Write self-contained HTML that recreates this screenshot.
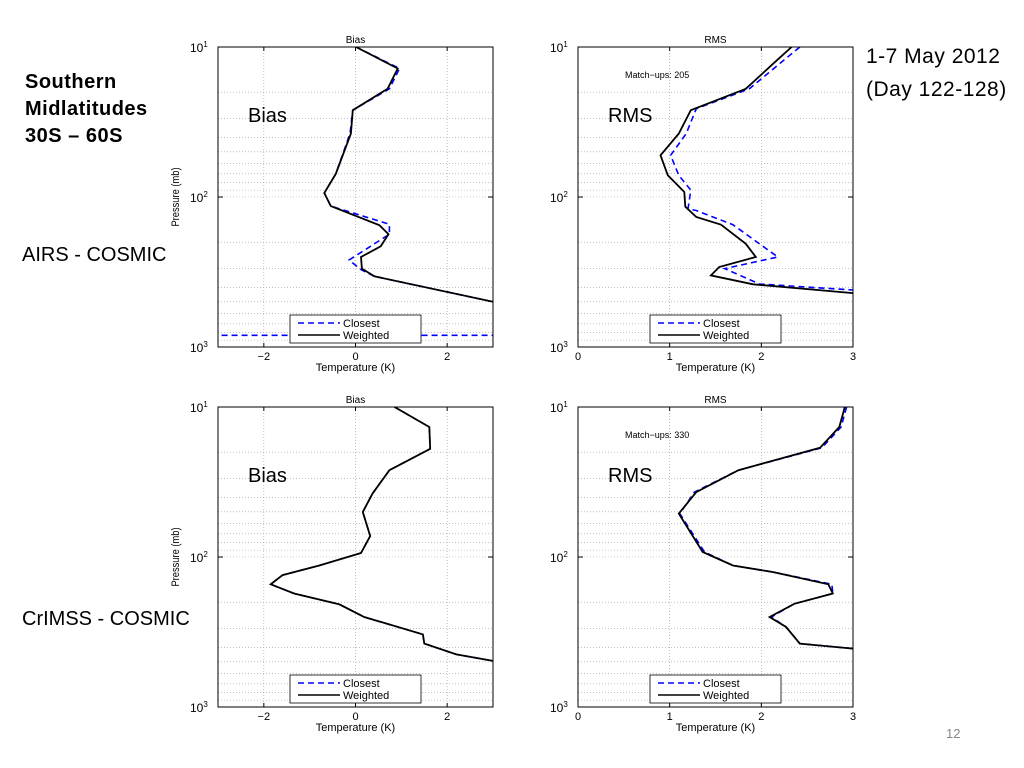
<!DOCTYPE html>
<html><head><meta charset="utf-8">
<style>
body{margin:0;background:#fff;width:1024px;height:768px;overflow:hidden;font-family:"Liberation Sans",sans-serif;}
.ann{position:absolute;font-family:"Liberation Sans",sans-serif;color:#000;white-space:nowrap;}
</style></head><body>
<div class="ann" style="left:25px;top:69px;font-size:20px;font-weight:bold;line-height:27px;letter-spacing:0.5px;">Southern<br>Midlatitudes<br>30S – 60S</div>
<div class="ann" style="left:866px;top:40px;font-size:21px;line-height:33px;letter-spacing:0.5px;">1-7 May 2012<br>(Day 122-128)</div>
<div class="ann" style="left:22px;top:244px;font-size:20px;">AIRS - COSMIC</div>
<div class="ann" style="left:22px;top:608px;font-size:20px;">CrIMSS - COSMIC</div>
<div class="ann" style="left:946px;top:726px;font-size:13px;color:#888;">12</div>
<svg id="svg" width="1024" height="768" style="position:absolute;left:0;top:0"></svg>
<script>
// Data arrays (temperature K, pressure mb)
const tlBiasWT=[0.01,0.92,0.70,-0.06,-0.10,-0.43,-0.68,-0.54,0.52,0.72,0.55,0.12,0.14,0.41,3.0,3.6];
const tlBiasWP=[10,13.9,19,26.4,37.8,70,94,115,154,177,213,251,300,338,500,560];
const tlBiasCT=[0.01,0.96,0.74,-0.06,-0.12,-0.43,-0.68,-0.54,0.74,0.74,-0.14,0.12,0.41,3.0,12,12,-12];
const tlBiasCP=[10,13.9,19,26.4,37.8,70,94,115,152,177,263,305,338,500,700,836,836];
const trRmsWT=[2.33,2.13,1.83,1.23,1.10,0.90,0.98,1.16,1.17,1.29,1.56,1.83,1.94,1.54,1.45,1.91,3.0,3.5];
const trRmsWP=[10,12.9,19,26.4,37.8,52.7,71.7,92.6,116,136,153,205,251,293,333,382,437,460];
const trRmsCT=[2.42,2.20,1.87,1.29,1.18,1.01,1.10,1.23,1.20,1.29,1.69,2.18,1.60,1.98,3.0,3.5];
const trRmsCP=[10,12.9,19,25.8,37.8,52.7,71.7,90,120,123,153,251,300,380,417,440];
const blBiasT=[0.85,1.61,1.63,0.74,0.37,0.16,0.32,0.12,-0.79,-1.59,-1.85,-1.34,-0.35,0.19,1.47,1.50,2.20,3.0,3.5];
const blBiasP=[10,13.6,19,26.4,37.8,50.1,72.4,94,114,132,152,175,207,251,328,378,446,493,520];
const brRmsWT=[2.91,2.85,2.64,1.75,1.29,1.10,1.36,1.69,2.13,2.73,2.78,2.36,2.09,2.27,2.42,3.0,3.4];
const brRmsWP=[10,13.6,18.7,26.4,36.9,51.4,92.6,114,126,152,175,205,251,293,378,408,420];
const brRmsCT=[2.93,2.87,2.66,1.75,1.27,1.11,1.38,1.69,2.13,2.77,2.78,2.36,2.11,2.27,2.42,3.0,3.4];
const brRmsCP=[10,13.6,18.7,26.4,36.9,51.4,92.6,114,126,152,175,205,251,293,378,408,420];
const biasTicks=[-2,0,2];
const rmsTicks=[0,1,2,3];

const NS='http://www.w3.org/2000/svg';
const svg=document.getElementById('svg');
function mk(tag,attrs,parent){const e=document.createElementNS(NS,tag);for(const k in attrs)e.setAttribute(k,attrs[k]);(parent||svg).appendChild(e);return e;}

let clipId=0;
function panel(x0,y0,xmin,xmax,ticks,title,name,bigLabel,matchups,showYLabel,series){
  const W=275,H=300;
  const sx=t=>x0+(t-xmin)/(xmax-xmin)*W;
  const sy=p=>y0+(Math.log10(p)-1)/2*H;
  const g=mk('g',{});
  
  
  mk('rect',{x:x0,y:y0,width:W,height:H,fill:'#fff'},g);
  for(let d=1;d<=2;d++)for(let m=2;m<=9;m++){const y=sy(m*Math.pow(10,d));mk('line',{x1:x0,x2:x0+W,y1:y,y2:y,stroke:'#999','stroke-width':0.6,'stroke-dasharray':'1,2'},g);}
  {const y=sy(100);mk('line',{x1:x0,x2:x0+W,y1:y,y2:y,stroke:'#999','stroke-width':0.6,'stroke-dasharray':'1,2'},g);}
  ticks.forEach(t=>{if(t>xmin&&t<xmax)mk('line',{x1:sx(t),x2:sx(t),y1:y0,y2:y0+H,stroke:'#999','stroke-width':0.6,'stroke-dasharray':'1,2'},g);});
  const cid='c'+(clipId++);
  const cp=mk('clipPath',{id:cid},g);mk('rect',{x:x0,y:y0,width:W,height:H},cp);
  series.forEach(s=>{
    const pts=s.T.map((t,i)=>sx(t).toFixed(1)+','+sy(s.P[i]).toFixed(1)).join(' ');
    const pl=mk('polyline',{points:pts,fill:'none',stroke:s.c,'stroke-width':s.w,'stroke-dasharray':s.dash||'none','clip-path':'url(#'+cid+')'},g);
    
    
  });
  mk('rect',{x:x0,y:y0,width:W,height:H,fill:'none',stroke:'#000','stroke-width':1},g);
  ticks.forEach(t=>{const x=sx(t);mk('line',{x1:x,x2:x,y1:y0+H,y2:y0+H-4,stroke:'#000'},g);mk('line',{x1:x,x2:x,y1:y0,y2:y0+4,stroke:'#000'},g);
    const tx=mk('text',{x:x,y:y0+H+13,'font-size':11,'text-anchor':'middle','font-family':'Liberation Sans'},g);tx.textContent=(t<0?'\u2212'+(-t):t);});
  [[10,'1'],[100,'2'],[1000,'3']].forEach(([p,e])=>{const y=sy(p);mk('line',{x1:x0,x2:x0+5,y1:y,y2:y,stroke:'#000'},g);mk('line',{x1:x0+W,x2:x0+W-5,y1:y,y2:y,stroke:'#000'},g);
    const tx=mk('text',{x:x0-28,y:y+5,'font-size':12,'font-family':'Liberation Sans'},g);tx.textContent='10';const sp=mk('tspan',{dy:-5,'font-size':8},tx);sp.textContent=e;});
  const tt=mk('text',{x:x0+W/2,y:y0-4,'font-size':10,'text-anchor':'middle','font-family':'Liberation Sans'},g);tt.textContent=title;
  
  const xl=mk('text',{x:x0+W/2,y:y0+H+24,'font-size':11,'text-anchor':'middle','font-family':'Liberation Sans'},g);xl.textContent='Temperature (K)';
  
  if(showYLabel){const yl=mk('text',{x:0,y:0,'font-size':11,'text-anchor':'middle','font-family':'Liberation Sans',transform:`translate(${x0-39},${y0+H/2}) rotate(-90) scale(0.85,1)`},g);yl.textContent='Pressure (mb)';
    }
  const bl=mk('text',{x:x0+30,y:y0+75,'font-size':20,'font-family':'Liberation Sans'},g);bl.textContent=bigLabel;
  
  if(matchups){const mt=mk('text',{x:x0+47,y:y0+31,'font-size':9,'font-family':'Liberation Sans'},g);mt.textContent=matchups;
    }
  const lx=x0+72,ly=y0+268;
  const lg=mk('g',{},g);
  mk('rect',{x:lx,y:ly,width:131,height:28,fill:'#fff',stroke:'#000','stroke-width':0.8},lg);
  mk('line',{x1:lx+8,x2:lx+50,y1:ly+8,y2:ly+8,stroke:'#0000ff','stroke-width':1.6,'stroke-dasharray':'6,4'},lg);
  mk('line',{x1:lx+8,x2:lx+50,y1:ly+20,y2:ly+20,stroke:'#000','stroke-width':1.6},lg);
  const l1=mk('text',{x:lx+53,y:ly+12,'font-size':11,'font-family':'Liberation Sans'},lg);l1.textContent='Closest';
  const l2=mk('text',{x:lx+53,y:ly+24,'font-size':11,'font-family':'Liberation Sans'},lg);l2.textContent='Weighted';
}
const C=(T,P)=>({T,P,c:'#0000ff',w:1.6,dash:'6,4',n:'closest-line'});
const Wt=(T,P)=>({T,P,c:'#000',w:1.8,n:'weighted-line'});
panel(218,47,-3,3,biasTicks,'Bias','airs-bias-chart','Bias',null,true,[C(tlBiasCT,tlBiasCP),Wt(tlBiasWT,tlBiasWP)]);
panel(578,47,0,3,rmsTicks,'RMS','airs-rms-chart','RMS','Match\u2212ups: 205',false,[C(trRmsCT,trRmsCP),Wt(trRmsWT,trRmsWP)]);
panel(218,407,-3,3,biasTicks,'Bias','crimss-bias-chart','Bias',null,true,[C(blBiasT,blBiasP),Wt(blBiasT,blBiasP)]);
panel(578,407,0,3,rmsTicks,'RMS','crimss-rms-chart','RMS','Match\u2212ups: 330',false,[C(brRmsCT,brRmsCP),Wt(brRmsWT,brRmsWP)]);
</script>
</body></html>
